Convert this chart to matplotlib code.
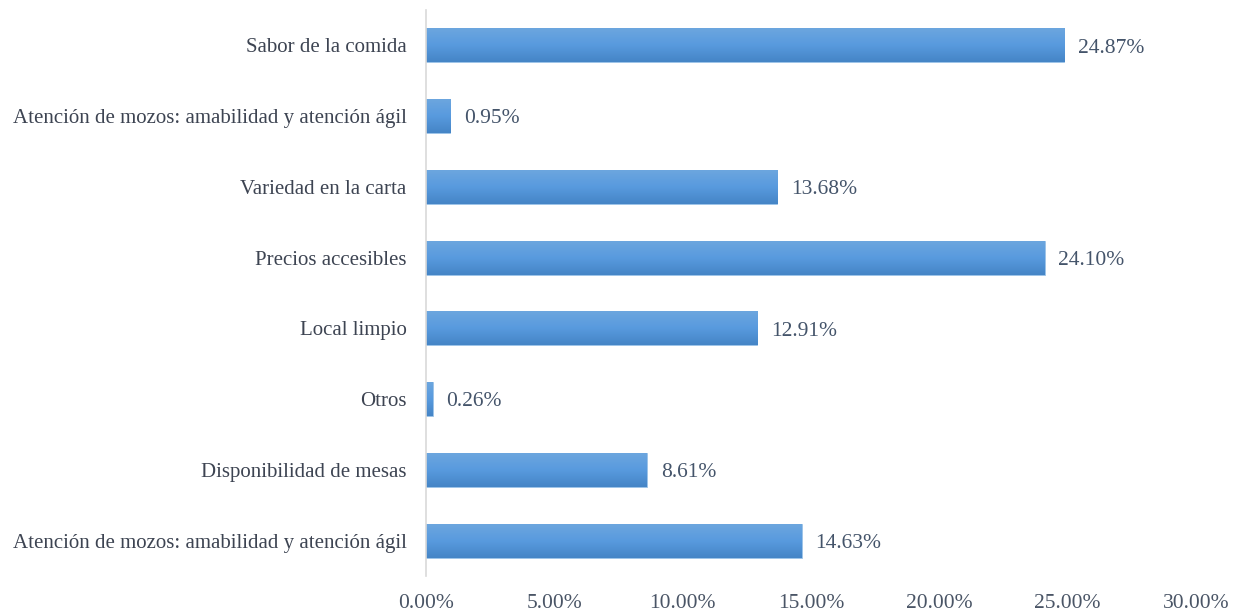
import numpy as np
import matplotlib
matplotlib.use("Agg")
import matplotlib.pyplot as plt
from matplotlib.colors import LinearSegmentedColormap

# Survey answers, listed top to bottom
categories = [
    "Sabor de la comida",
    "Atención de mozos: amabilidad y atención ágil",
    "Variedad en la carta",
    "Precios accesibles",
    "Local limpio",
    "Otros",
    "Disponibilidad de mesas",
    "Atención de mozos: amabilidad y atención ágil",
]
shares = [24.87, 0.95, 13.68, 24.10, 12.91, 0.26, 8.61, 14.63]
x_ticks = [0, 5, 10, 15, 20, 25, 30]

plt.rcParams["font.family"] = ["Liberation Serif", "DejaVu Serif"]

fig = plt.figure(figsize=(12.46, 6.12), dpi=100)
ax = fig.add_axes([426 / 1246, 1 - 576 / 612, (1196 - 426) / 1246, (576 - 10) / 612])

y = np.arange(len(categories))
bars = ax.barh(y, shares, height=0.48, color="#5b9bd5", edgecolor="#9cc3e8",
               linewidth=0.6, zorder=2)

# vertical gradient fill, lighter on top and darker at the bottom
grad = LinearSegmentedColormap.from_list("bar", ["#6ca6df", "#589ade", "#4585c6"])
ramp = np.linspace(0, 1, 64).reshape(-1, 1)
for b in bars:
    x0, y0 = b.get_x(), b.get_y()
    w, h = b.get_width(), b.get_height()
    ax.imshow(ramp, cmap=grad, aspect="auto", interpolation="bilinear",
              extent=(x0, x0 + w, y0 + h, y0), zorder=2.5)

for b, v in zip(bars, shares):
    ax.annotate(f"{v:.2f}%", xy=(b.get_width(), b.get_y() + b.get_height() / 2),
                xytext=(10, -2), textcoords="offset points", ha="left", va="center",
                fontsize=15.5, color="#44546a")

ax.set_xlim(0, 30)
ax.set_ylim(len(categories) - 0.5, -0.5)
ax.set_yticks(y)
ax.set_yticklabels(categories, fontsize=15, color="#3d4452")
ax.set_xticks(x_ticks)
ax.set_xticklabels([f"{t:.2f}%" for t in x_ticks], fontsize=15.5, color="#4a5566")
ax.tick_params(axis="both", length=0)
ax.tick_params(axis="y", pad=14)
ax.tick_params(axis="x", pad=13)

for side in ["top", "right", "bottom"]:
    ax.spines[side].set_visible(False)
ax.spines["left"].set_color("#d9d9d9")
ax.spines["left"].set_linewidth(1.2)

fig.savefig("out.png", dpi=100)
